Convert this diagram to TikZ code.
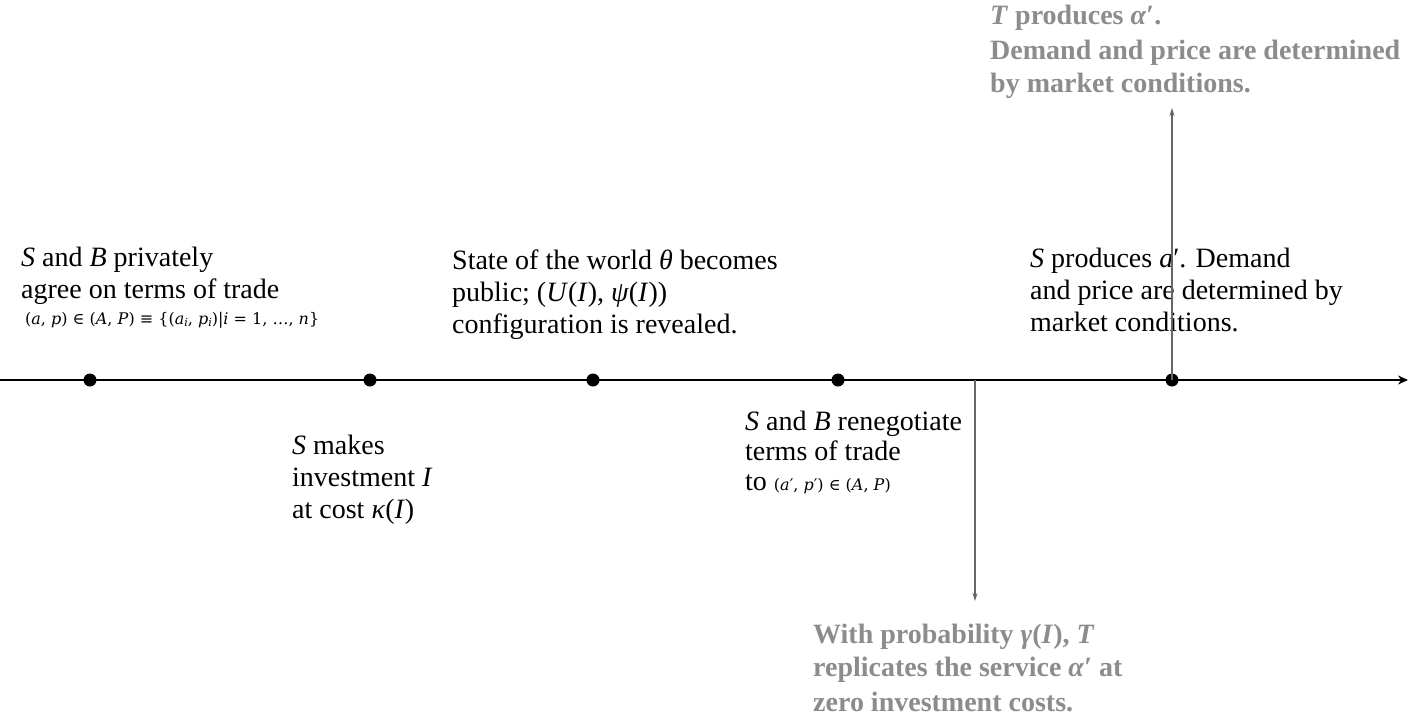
\documentclass[tikz,border=0pt]{standalone}
\usepackage{fontspec}
\setmainfont{Liberation Serif}
\newfontfamily\dvs{DejaVu Serif}
\newfontfamily\grayf{Liberation Serif}
\usetikzlibrary{arrows.meta}
\definecolor{fadedgray}{gray}{0.55}
\definecolor{vline}{gray}{0.4}
\newcommand{\mi}[1]{\textit{#1}}
\newcommand{\smallmath}{\dvs\fontsize{16}{19}\selectfont}
\newcommand{\sbs}[1]{\raisebox{-2.5pt}{\fontsize{11}{12}\selectfont\itshape #1}}
\begin{document}
\begin{tikzpicture}[x=1pt,y=-1pt,
  txt/.style={anchor=base west, inner sep=0, align=left, font=\fontsize{28}{32}\selectfont},
  gtxt/.style={anchor=base west, inner sep=0, align=left, text=fadedgray, font=\grayf\bfseries\fontsize{28}{35}\selectfont},
  dot/.style={circle, fill=black, inner sep=0, minimum size=13pt},
  axis/.style={line width=2.6pt, -{Stealth[length=10pt,width=9pt]}},
  thinarrow/.style={line width=1.3pt, draw=vline, -{Stealth[length=8pt,width=5pt]}}]
\useasboundingbox (0,0) rectangle (1408,724);
% timeline
\coordinate (t0) at (0,380);
\coordinate (t1) at (1408,380);
\node[dot] (d1) at (90,380) {};
\node[dot] (d2) at (370,380) {};
\node[dot] (d3) at (593,380) {};
\node[dot] (d4) at (838,380) {};
\node[dot] (d5) at (1172,380) {};
\coordinate (v1) at (975,380);
\draw[axis] (t0) -- (t1);
% texts
\node[txt] (ta) at (21,324) {\mi{S} and \mi{B} privately\\agree on terms of trade\\[-6pt]
  \hspace*{4pt}{\smallmath (\mi{a}, \mi{p}) ∈ (\mi{A}, \mi{P}) ≡ \{(\mi{a}\sbs{i}, \mi{p}\sbs{i})|\mi{i} = 1, …, \mi{n}\}}};
\node[txt] (tb) at (292,518) {\mi{S} makes\\investment \mi{I}\\at cost \mi{κ}(\mi{I})};
\node[txt] (tc) at (452,333) {State of the world \mi{θ} becomes\\public; (\mi{U}(\mi{I}), \mi{ψ}(\mi{I}))\\configuration is revealed.};
\node[txt] (td) at (745,490) {\mi{S} and \mi{B} renegotiate\\[-2pt]terms of trade\\[-2pt]to {\smallmath (\mi{a}′, \mi{p}′) ∈ (\mi{A}, \mi{P})}};
\node[txt] (te) at (1030,331) {\mi{S} produces \mi{a}′. Demand\\and price are determined by\\market conditions.};
\node[gtxt] (tf) at (990,92) {\mi{T} produces \mi{α}′.\\Demand and price are determined\\[-2pt]by market conditions.};
\node[gtxt] (tg) at (813,711) {With probability \mi{γ}(\mi{I}), \mi{T}\\[-2pt]replicates the service \mi{α}′ at\\zero investment costs.};
% vertical connectors
\coordinate (v1e) at (975,601);
\coordinate (v2e) at (1172,108);
\draw[thinarrow] (v1) -- (v1e);
\draw[thinarrow] (d5.center) -- (v2e);
\end{tikzpicture}
\end{document}
